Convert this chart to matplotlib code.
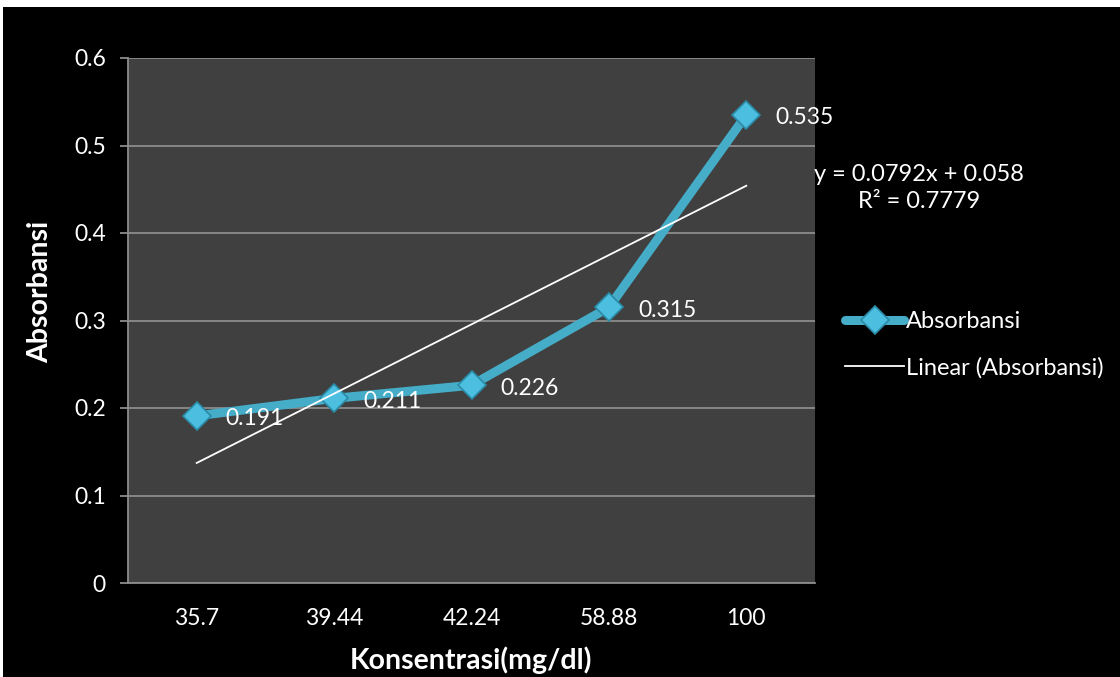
import matplotlib.pyplot as plt
import numpy as np
from matplotlib.patches import Rectangle

categories = ['35.7', '39.44', '42.24', '58.88', '100']
absorbansi = [0.191, 0.211, 0.226, 0.315, 0.535]
y_ticks = [0, 0.1, 0.2, 0.3, 0.4, 0.5, 0.6]

plt.rcParams['font.family'] = ['Lato', 'DejaVu Sans']

W, H = 1120, 677
fig = plt.figure(figsize=(W / 100, H / 100), dpi=100, facecolor='black')

# thin white border of the screenshot (top and left)
fig.patches.append(Rectangle((0, 1 - 7 / H), 1, 7 / H, transform=fig.transFigure,
                             facecolor='white', edgecolor='none', zorder=0))
fig.patches.append(Rectangle((0, 0), 2.5 / W, 1, transform=fig.transFigure,
                             facecolor='white', edgecolor='none', zorder=0))

ax = fig.add_axes([128 / W, 1 - 583 / H, 687 / W, 525 / H])
ax.set_facecolor('#404040')

x = np.arange(1, len(categories) + 1)
y = np.array(absorbansi)

# linear trend line (Excel-style, on category index)
slope, intercept = np.polyfit(x, y, 1)
ss_res = np.sum((y - (slope * x + intercept)) ** 2)
ss_tot = np.sum((y - y.mean()) ** 2)
r2 = 1 - ss_res / ss_tot

line, = ax.plot(x, y, color='#45adc8', linewidth=6.5, solid_capstyle='round',
                marker='D', markersize=14, markerfacecolor='#4cbfe0',
                markeredgecolor='#2b8aa6', markeredgewidth=1.2, zorder=3,
                label='Absorbansi')
trend, = ax.plot(x, slope * x + intercept, color='white', linewidth=1.3, zorder=4,
                 label='Linear (Absorbansi)')

for xi, yi in zip(x, y):
    ax.annotate(f'{yi:g}', (xi, yi), xytext=(21, -2), textcoords='offset points',
                ha='left', va='center', color='white', fontsize=16.5, zorder=5)

ax.set_xlim(0.5, len(categories) + 0.5)
ax.set_ylim(0, 0.6)
ax.set_yticks(y_ticks)
ax.set_yticklabels([f'{t:g}' for t in y_ticks])
ax.set_xticks(x)
ax.set_xticklabels(categories)
ax.yaxis.grid(True, color='#8c8c8c', linewidth=1.3)
ax.set_axisbelow(True)

for side in ['top', 'right']:
    ax.spines[side].set_visible(False)
for side in ['left', 'bottom']:
    ax.spines[side].set_color('#8c8c8c')
    ax.spines[side].set_linewidth(1.3)

ax.tick_params(axis='y', colors='white', labelsize=16.5, length=6, width=1.3,
               color='#8c8c8c', pad=10)
ax.tick_params(axis='x', colors='white', labelsize=16.5, length=0, pad=18)

fig.text(40 / W, 1 - 292 / H, 'Absorbansi', color='white', fontsize=20.5,
         fontweight='bold', rotation=90, ha='center', va='center')
fig.text(471 / W, 1 - 660 / H, 'Konsentrasi(mg/dl)', color='white', fontsize=20.5,
         fontweight='bold', ha='center', va='center')

fig.text(919 / W, 1 - 188 / H, f'y = {slope:.4f}x + {intercept:.3f}\nR² = {r2:.4f}',
         color='white', fontsize=17, ha='center', va='center', linespacing=1.3)

fig.legend(handles=[line, trend], loc='center left',
           bbox_to_anchor=(845 / W, 1 - 345 / H), frameon=False,
           labelcolor='white', fontsize=17, handlelength=2.5,
           handletextpad=0.08, labelspacing=1.05, borderpad=0, borderaxespad=0)

fig.savefig('out.png', dpi=100, facecolor='black')
